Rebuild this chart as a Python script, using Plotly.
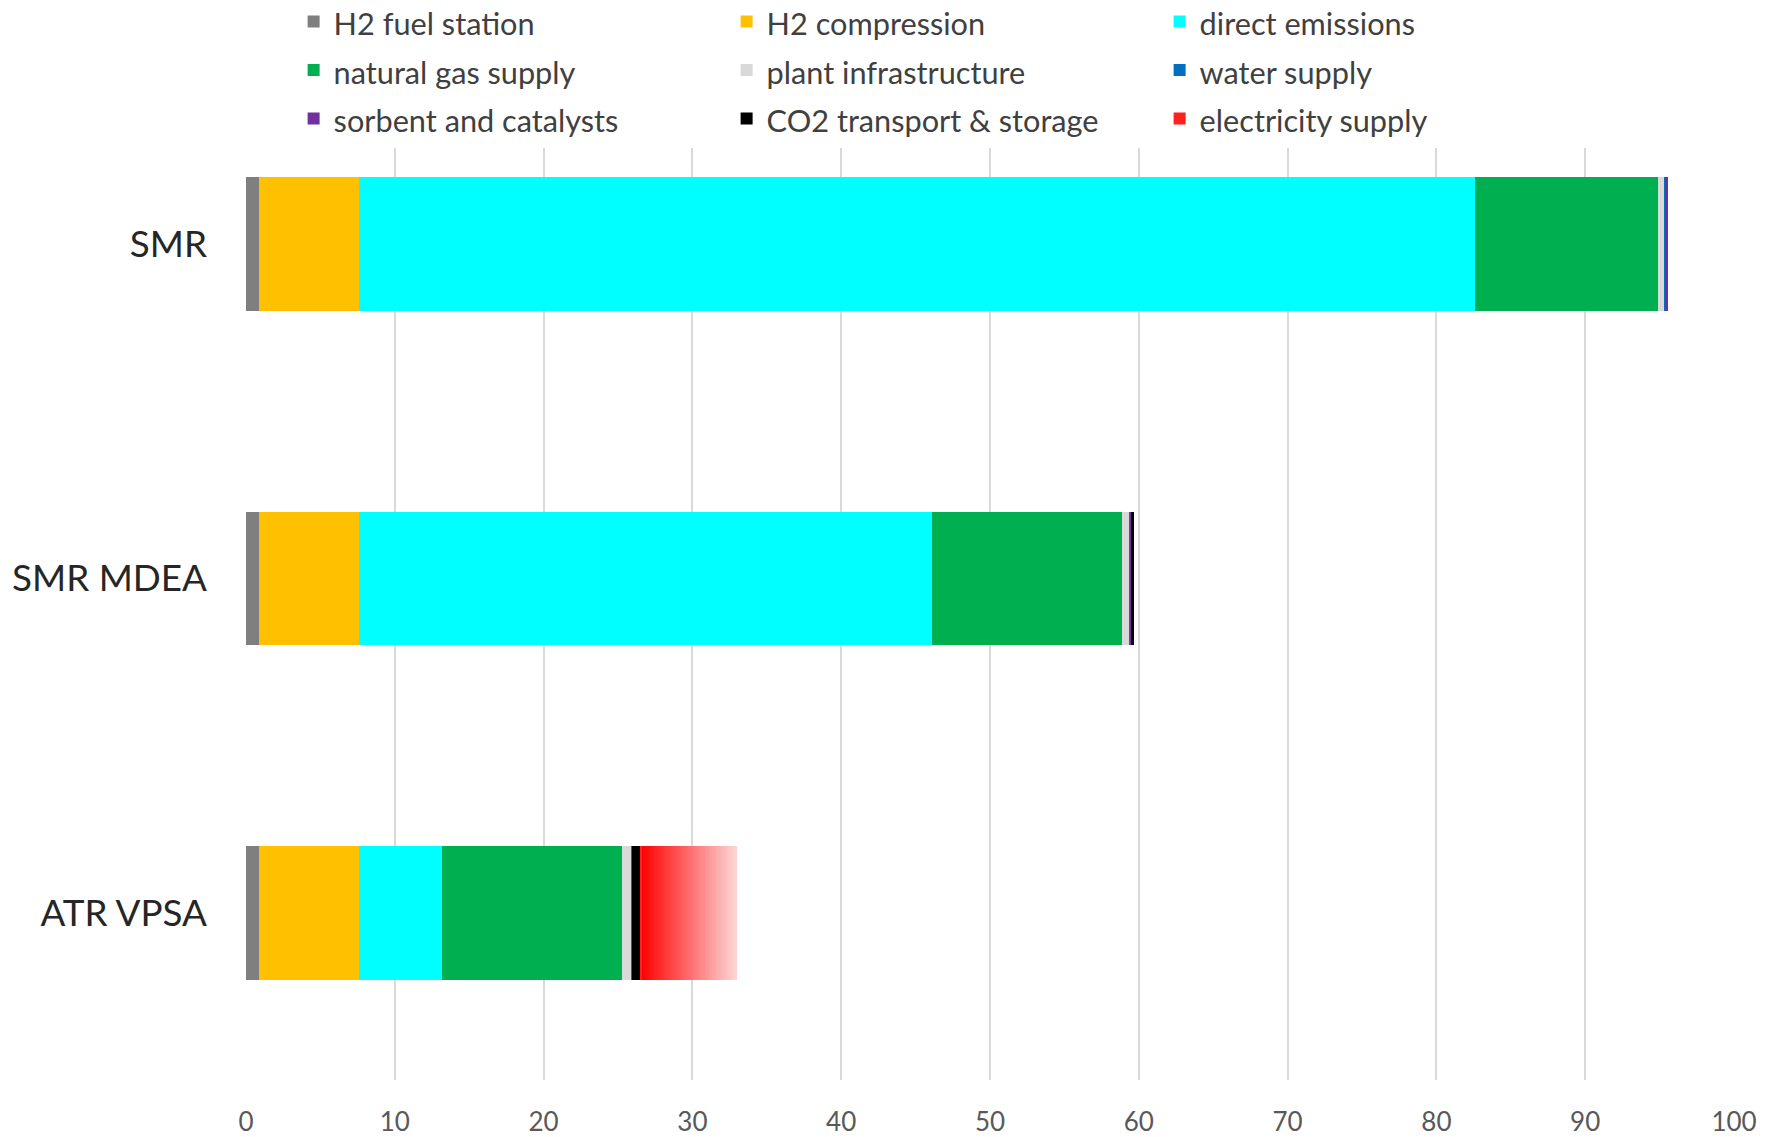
import plotly.graph_objects as go

# Production routes (top to bottom)
routes = ["SMR", "SMR MDEA", "ATR VPSA"]

# Contributions per route, in stacking order
h2_fuel_station = [0.9, 0.9, 0.9]
h2_compression = [6.7, 6.7, 6.7]
direct_emissions = [75.0, 38.5, 5.6]
natural_gas_supply = [12.3, 12.8, 12.1]
plant_infrastructure = [0.4, 0.45, 0.6]
water_supply = [0.08, 0.08, 0.05]
sorbent_and_catalysts = [0.2, 0.02, 0.02]
co2_transport_storage = [0.0, 0.2, 0.5]
electricity_supply = [0.0, 0.0, 6.5]

x_ticks = list(range(0, 101, 10))

components = [
    ("H2 fuel station", h2_fuel_station, "#7f7f7f"),
    ("H2 compression", h2_compression, "#ffc000"),
    ("direct emissions", direct_emissions, "#00ffff"),
    ("natural gas supply", natural_gas_supply, "#00b050"),
    ("plant infrastructure", plant_infrastructure, "#d9d9d9"),
    ("water supply", water_supply, "#0070c0"),
    ("sorbent and catalysts", sorbent_and_catalysts, "#7030a0"),
    ("CO2 transport & storage", co2_transport_storage, "#000000"),
]


def legend_label(text):
    # slightly smaller glyphs than the legend row height would give
    return '<span style="font-size:30.7px">%s</span>' % text


fig = go.Figure()
for name, vals, color in components:
    fig.add_trace(go.Bar(
        y=routes, x=vals, name=legend_label(name), orientation="h",
        marker=dict(color=color, line=dict(width=0)),
    ))

# Electricity supply is shaded with a red-to-pale gradient, built from
# equal thin slices of the same total value.
n_slices = 40
start_rgb = (255, 0, 0)
end_rgb = (252, 212, 212)
for i in range(n_slices):
    t = i / (n_slices - 1)
    rgb = tuple(round(a + (b - a) * t) for a, b in zip(start_rgb, end_rgb))
    fig.add_trace(go.Bar(
        y=routes, x=[v / n_slices for v in electricity_supply],
        name=legend_label("electricity supply"), orientation="h",
        legendgroup="electricity", showlegend=(i == 0),
        marker=dict(color="rgb(%d,%d,%d)" % rgb if i else "#ff2020", line=dict(width=0)),
    ))

fig.update_layout(
    width=1777, height=1137,
    template="none",
    barmode="stack",
    bargap=0.6,
    paper_bgcolor="white",
    plot_bgcolor="white",
    margin=dict(l=246, r=43, t=77, b=57, autoexpand=False),
    font=dict(family="Lato", color="#404040"),
    showlegend=True,
    legend=dict(
        orientation="h",
        x=0.032, xanchor="left",
        y=1.0845, yanchor="top",
        entrywidth=388, entrywidthmode="pixels",
        bgcolor="white",
        font=dict(size=35, color="#404040"),
        traceorder="normal",
        itemclick=False,
    ),
    xaxis=dict(
        range=[0, 100],
        tickvals=x_ticks,
        showgrid=True, gridcolor="#d9d9d9", gridwidth=2,
        zeroline=False, showline=False, ticks="",
        tickfont=dict(size=26, color="#595959"),
        ticklabelstandoff=24,
    ),
    yaxis=dict(
        categoryorder="array", categoryarray=routes,
        autorange="reversed",
        showgrid=False, zeroline=False, showline=False, ticks="",
        tickfont=dict(size=36.8, color="#262626"),
        ticklabelstandoff=38,
    ),
)

fig.write_html("out.html")
